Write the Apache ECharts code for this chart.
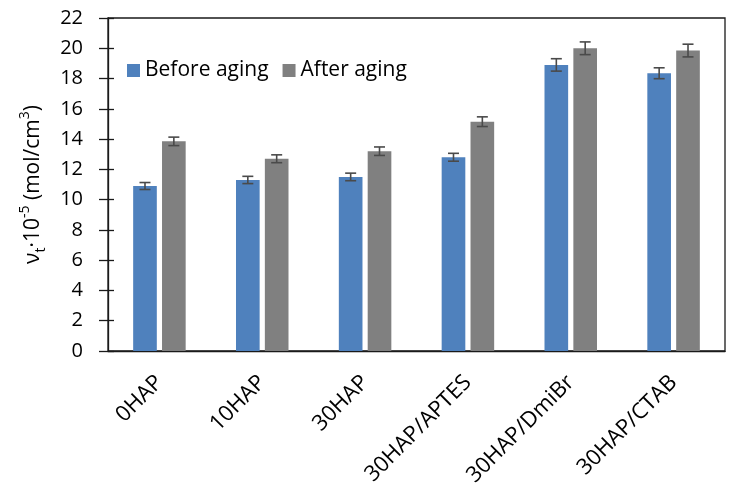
<!DOCTYPE html>
<html><head><meta charset="utf-8">
<script src="https://cdn.jsdelivr.net/npm/echarts@6/dist/echarts.min.js"></script>
<style>html,body{margin:0;padding:0;background:#fff}#c{width:732px;height:493px}</style>
</head><body><div id="c"></div>
<script>
const categories = ['0HAP', '10HAP', '30HAP', '30HAP/APTES', '30HAP/DmiBr', '30HAP/CTAB'];
const seriesNames = ['Before aging', 'After aging'];
const beforeValues = [10.9, 11.3, 11.5, 12.8, 18.9, 18.35];
const beforeErrors = [0.23, 0.24, 0.25, 0.26, 0.41, 0.36];
const afterValues = [13.85, 12.7, 13.2, 15.15, 20.0, 19.85];
const afterErrors = [0.28, 0.26, 0.28, 0.32, 0.42, 0.42];
const yMin = 0, yMax = 22, yInterval = 2;

const FONT = 'Open Sans';
const BAR_W = 0.23, BAR_GAP = 0.22;
const half = (2 * BAR_W + BAR_W * BAR_GAP) / 2;
const offBefore = -half + BAR_W / 2;
const offAfter = half - BAR_W / 2;

function errRender(off) {
  return function (params, api) {
    const i = api.value(0), v = api.value(1), e = api.value(2);
    const band = api.size([1, 0])[0];
    const c = api.coord([i, v]);
    const x = c[0] + off * band;
    const top = api.coord([i, v + e])[1];
    const bot = api.coord([i, v - e])[1];
    const hw = 5.5;
    const st = { stroke: '#4a4a4a', lineWidth: 1.6 };
    return { type: 'group', children: [
      { type: 'line', shape: { x1: x, y1: top, x2: x, y2: bot }, style: st },
      { type: 'line', shape: { x1: x - hw, y1: top, x2: x + hw, y2: top }, style: st },
      { type: 'line', shape: { x1: x - hw, y1: bot, x2: x + hw, y2: bot }, style: st }
    ]};
  };
}

const chart = echarts.init(document.getElementById('c'), null, { renderer: 'canvas' });
chart.setOption({
  animation: false,
  textStyle: { fontFamily: FONT },
  grid: { left: 108, right: 7, top: 18, bottom: 142, show: true, borderColor: '#1a1a1a', borderWidth: 1.3, backgroundColor: 'transparent' },
  legend: {
    data: seriesNames, left: 127, top: 60, padding: 0, itemWidth: 13, itemHeight: 13, itemGap: 14,
    icon: 'rect', textStyle: { fontSize: 21, color: '#000', fontFamily: FONT }
  },
  xAxis: {
    type: 'category', data: categories,
    axisLine: { lineStyle: { color: '#1a1a1a', width: 1.3 } },
    axisTick: { show: false },
    axisLabel: { rotate: 45, fontSize: 22, color: '#000', margin: 28, interval: 0 }
  },
  yAxis: [{
    type: 'value', min: yMin, max: yMax, interval: yInterval,
    position: 'left',
    axisLine: { show: true, lineStyle: { color: '#1a1a1a', width: 1.3 } },
    axisTick: { show: true, length: 9, lineStyle: { color: '#1a1a1a', width: 1.3 } },
    splitLine: { show: false },
    axisLabel: { fontSize: 20, color: '#000', margin: 25 },
    name: '{a|ν}{b|t}{a|·10}{c|-5}{a| (mol/cm}{c|3}{a|)}',
    nameLocation: 'middle', nameGap: 60,
    nameTextStyle: {
      lineHeight: 30,
      rich: {
        a: { fontSize: 21, color: '#000', fontFamily: FONT, lineHeight: 30 },
        b: { fontSize: 14, color: '#000', fontFamily: FONT, verticalAlign: 'bottom', lineHeight: 30 },
        c: { fontSize: 14, color: '#000', fontFamily: FONT, verticalAlign: 'top', lineHeight: 30 }
      }
    }
  }, {
    type: 'value', min: yMin, max: yMax, interval: yInterval,
    position: 'left', offset: 0,
    axisLine: { show: false },
    axisTick: { show: true, inside: true, length: 6, lineStyle: { color: '#1a1a1a', width: 1.3 } },
    splitLine: { show: false },
    axisLabel: { show: false }
  }],
  series: [
    { name: seriesNames[0], type: 'bar', data: beforeValues, barWidth: (BAR_W * 100) + '%', barGap: (BAR_GAP * 100) + '%', itemStyle: { color: '#4F81BD' } },
    { name: seriesNames[1], type: 'bar', data: afterValues, barWidth: (BAR_W * 100) + '%', barGap: (BAR_GAP * 100) + '%', itemStyle: { color: '#808080' } },
    { type: 'custom', renderItem: errRender(offBefore), z: 5, silent: true,
      data: categories.map((c, i) => [i, beforeValues[i], beforeErrors[i]]), encode: { x: 0, y: 1 } },
    { type: 'custom', renderItem: errRender(offAfter), z: 5, silent: true,
      data: categories.map((c, i) => [i, afterValues[i], afterErrors[i]]), encode: { x: 0, y: 1 } }
  ]
});
</script>
</body></html>
